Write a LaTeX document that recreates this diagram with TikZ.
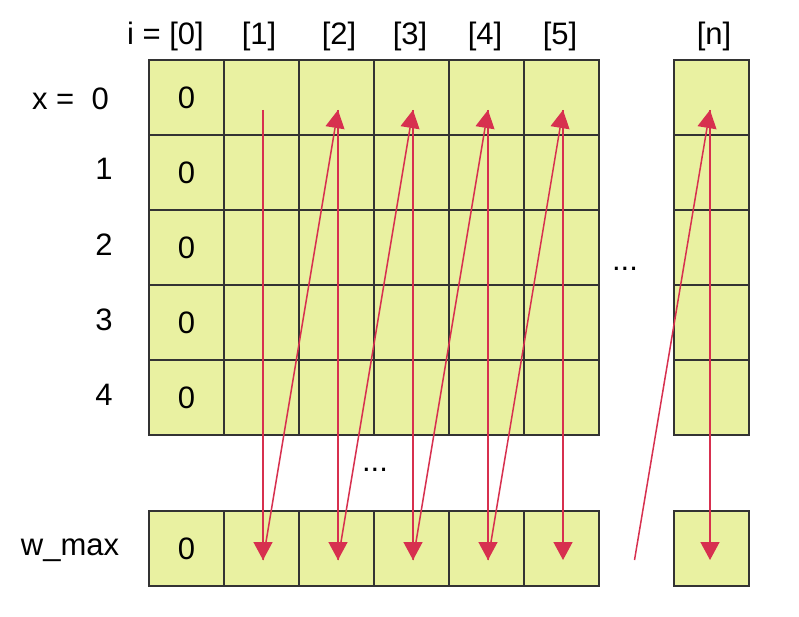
\documentclass[tikz,border=0pt]{standalone}
\usepackage{fontspec}
\setmainfont{Liberation Sans}
\usetikzlibrary{positioning, arrows.meta}
\definecolor{cellfill}{HTML}{E9F1A1}
\definecolor{cellline}{HTML}{333333}
\definecolor{arrowred}{HTML}{D7304F}

\begin{document}
\begin{tikzpicture}[x=1pt,y=-1pt,
	cell/.style={draw=cellline,line width=1.6pt,fill=cellfill,minimum size=75pt,inner sep=0pt,font=\fontsize{31}{36}\selectfont},
	lbl/.style={inner sep=0pt,font=\fontsize{31}{36}\selectfont},
	link/.style={-{Triangle[length=18pt,width=19pt]},color=arrowred,line width=1.5pt}]
	
	\useasboundingbox (0,0) rectangle (799,617);
	
	%Table cells
	\foreach \r in {0,...,4} {
		\node[cell] (c0-\r) at (186.5,97.5+75*\r) {0};
		\foreach \i in {1,...,5}
		\node[cell] (c\i-\r) at (186.5+75*\i,97.5+75*\r) {};
		\node[cell] (cn-\r) at (711.5,97.5+75*\r) {};
	}
	\node[cell] (b0) at (186.5,548.5) {0};
	\foreach \i in {1,...,5}
	\node[cell] (b\i) at (186.5+75*\i,548.5) {};
	\node[cell] (bn) at (711.5,548.5) {};
	
	%Labels
	\node[lbl,anchor=base east] (hdr0) at (204,45) {i = [0]};
	\node[lbl,anchor=base] (hdr1) at (259,45) {[1]};
	\node[lbl,anchor=base] (hdr2) at (339,45) {[2]};
	\node[lbl,anchor=base] (hdr3) at (410,45) {[3]};
	\node[lbl,anchor=base] (hdr4) at (485,45) {[4]};
	\node[lbl,anchor=base] (hdr5) at (560,45) {[5]};
	\node[lbl,anchor=base] (hdrn) at (714,45) {[n]};
	\node[lbl,anchor=base east] (row0) at (109,110) {x =\ \ 0};
	\node[lbl,anchor=base] (row1) at (104,180) {1};
	\node[lbl,anchor=base] (row2) at (104,255) {2};
	\node[lbl,anchor=base] (row3) at (104,330) {3};
	\node[lbl,anchor=base] (row4) at (104,405) {4};
	\node[lbl,anchor=base] (rowmax) at (70,555) {w\_max};
	\node[lbl,anchor=base] (dotsi) at (625,270) {...};
	\node[lbl,anchor=base] (dotsx) at (375,471) {...};
	
	%Arrow ends
	\foreach \i in {1,...,5} {
		\coordinate (t\i) at ([xshift=1.5pt,yshift=-12.5pt]c\i-0.center);
		\coordinate (bt\i) at ([xshift=1.5pt,yshift=-11.5pt]b\i.center);
	}
	\coordinate (tn) at ([xshift=-1.5pt,yshift=-12.5pt]cn-0.center);
	\coordinate (btn) at ([xshift=-1.5pt,yshift=-11.5pt]bn.center);
	\coordinate (bt6) at (634.5,560);
	
	%Arrows
	\foreach \i in {1,...,5}
	\draw[link] (t\i) -- (bt\i);
	\draw[link] (tn) -- (btn);
	\foreach \i/\j in {1/2,2/3,3/4,4/5}
	\draw[link] (bt\i) -- (t\j);
	\draw[link] (bt6) -- (tn);
	
\end{tikzpicture}
\end{document}
